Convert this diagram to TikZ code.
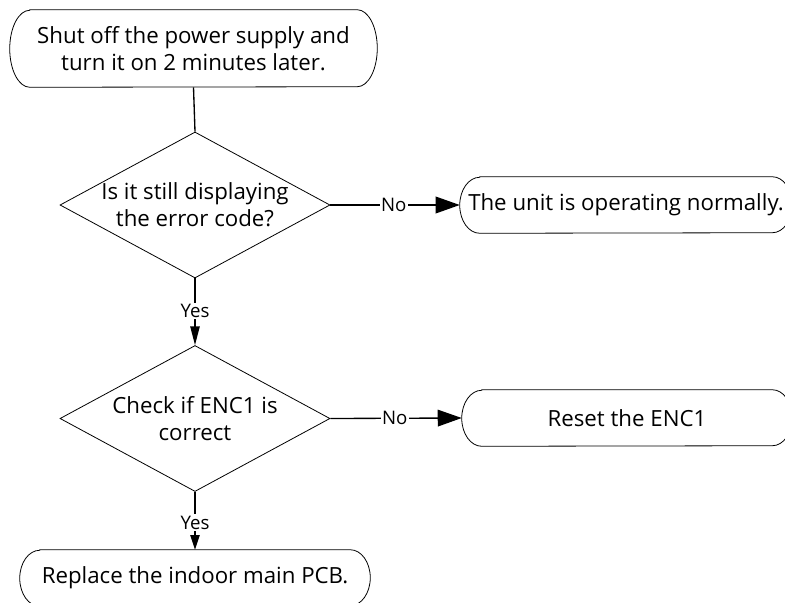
\documentclass[tikz,border=0pt]{standalone}
\usepackage{fontspec}
\setmainfont{Open Sans}
\usetikzlibrary{arrows.meta,shapes.geometric}
\tikzset{
  txt/.style={inner sep=0pt, align=center, font=\fontsize{16.7}{20}\selectfont},
  dec/.style={draw, diamond, line width=0.6pt, inner sep=0pt, minimum width=202.5pt, minimum height=109.5pt},
  conn/.style={line width=1pt},
  lab/.style={fill=white, inner sep=1pt, font=\fontsize{14}{16}\selectfont},
  harrow/.style={conn, -{Triangle[length=18pt,width=12.5pt]}},
  varrowa/.style={conn, -{Triangle[length=14pt,width=7pt]}},
  varrowb/.style={conn, -{Triangle[length=11pt,width=7pt]}},
  outline/.style={line width=0.6pt}
}
\begin{document}
\begin{tikzpicture}[x=0.75pt,y=0.75pt]
\useasboundingbox (0,0) rectangle (785,-603);
\clip (0,0) rectangle (785,-603);
% terminal nodes
\node[txt, minimum width=275.25pt, minimum height=57.75pt] (b1) at (193.5,-48.5) {Shut off the power supply and\\turn it on 2 minutes later.};
\node[txt, minimum width=249pt, minimum height=42pt] (b2) at (626,-205) {The unit is operating normally.};
\node[txt, minimum width=247.5pt, minimum height=42pt] (b3) at (627,-418) {Reset the ENC1};
\node[txt, minimum width=262.5pt, minimum height=42pt] (b4) at (195,-578) {Replace the indoor main PCB.};
% outlines
\draw[outline] ([xshift=15pt]b1.north west) -- ([xshift=-15pt]b1.north east)
  arc[start angle=90,end angle=-90,x radius=20,y radius=38.5] -- ([xshift=15pt]b1.south west)
  arc[start angle=270,end angle=90,x radius=20,y radius=38.5] -- cycle;
\foreach \n in {b2,b3,b4}{
\draw[outline] ([xshift=15pt]\n.north west) -- ([xshift=-15pt]\n.north east)
  arc[start angle=90,end angle=-90,x radius=20,y radius=28] -- ([xshift=15pt]\n.south west)
  arc[start angle=270,end angle=90,x radius=20,y radius=28] -- cycle;
}
% decisions
\node[dec] (d1) at (195,-205) {};
\node[txt] (t1) at (d1.center) {Is it still displaying\\the error code?};
\node[dec] (d2) at (195,-418.5) {};
\node[txt] (t2) at (d2.center) {Check if ENC1 is\\correct};
% connectors
\draw[conn] (b1.south) -- (d1.north);
\draw[harrow] (d1.east) -- node[lab, pos=0.49] {No} (b2.west);
\draw[harrow] (d2.east) -- node[lab, pos=0.49] {No} (b3.west);
\draw[varrowa] (d1.south) -- node[lab, pos=0.49] {Yes} (d2.north);
\draw[varrowb] (d2.south) -- node[lab, pos=0.53] {Yes} (b4.north);
\end{tikzpicture}
\end{document}
